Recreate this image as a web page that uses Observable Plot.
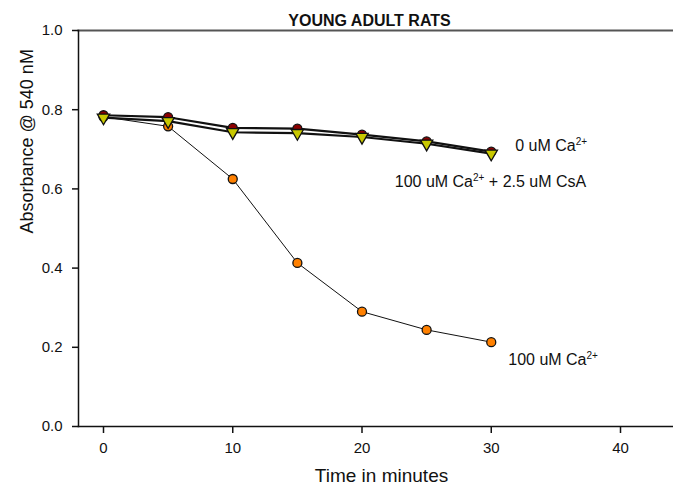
<!DOCTYPE html>
<html>
<head>
<meta charset="utf-8">
<script src="https://cdn.jsdelivr.net/npm/d3@7"></script>
<script src="https://cdn.jsdelivr.net/npm/@observablehq/plot@0.6"></script>
<style>
  html, body { margin: 0; padding: 0; background: #fff; }
  #chart svg { display: block; }
</style>
</head>
<body>
<div id="chart"></div>
<script>
// ---- data ----
const times = [0, 5, 10, 15, 20, 25, 30];
const ca0 = [0.786, 0.781, 0.754, 0.752, 0.737, 0.720, 0.694];      // 0 uM Ca2+
const caCsA = [0.780, 0.771, 0.743, 0.741, 0.731, 0.714, 0.689];    // 100 uM Ca2+ + 2.5 uM CsA
const ca100 = [0.782, 0.758, 0.625, 0.413, 0.290, 0.244, 0.213];    // 100 uM Ca2+
const seriesLabels = ["0 uM Ca2+", "100 uM Ca2+ + 2.5 uM CsA", "100 uM Ca2+"];
const xTicks = [0, 10, 20, 30, 40];
const yTicks = [0, 0.2, 0.4, 0.6, 0.8, 1.0];
const xDomain = [-1.934, 44.1];
const yDomain = [0, 1];
const title = "YOUNG ADULT RATS";
const xLabel = "Time in minutes";
const yLabel = "Absorbance @ 540 nM";

const rows = (vals) => times.map((t, i) => ({t, v: vals[i]}));
const last = (vals) => [{t: times[times.length - 1], v: vals[vals.length - 1]}];

const font = "'Liberation Sans', Arial, sans-serif";
const ink = "#111";

const plot = Plot.plot({
  width: 673,
  height: 486,
  marginLeft: 78,
  marginRight: 0,
  marginTop: 30,
  marginBottom: 60,
  style: {fontFamily: font, color: ink, background: "#fff", overflow: "visible"},
  x: {domain: xDomain},
  y: {domain: yDomain},
  marks: [
    Plot.frame({anchor: "top", stroke: "#555", strokeWidth: 2}),
    Plot.frame({anchor: "left", stroke: ink, strokeWidth: 1.5}),
    Plot.frame({anchor: "bottom", stroke: ink, strokeWidth: 1.5}),
    Plot.axisY({ticks: yTicks, tickFormat: d3.format(".1f"), tickSize: 6, tickPadding: 10,
      fontSize: 15, label: null, stroke: ink, strokeWidth: 1.5}),
    Plot.axisX({ticks: xTicks, tickSize: 7, tickPadding: 9, fontSize: 15, label: null,
      stroke: ink, strokeWidth: 1.5}),
    Plot.line(rows(ca100), {x: "t", y: "v", stroke: ink, strokeWidth: 1}),
    Plot.line(rows(caCsA), {x: "t", y: "v", stroke: ink, strokeWidth: 2.2}),
    Plot.line(rows(ca0), {x: "t", y: "v", stroke: ink, strokeWidth: 2.2}),
    Plot.dot(rows(ca100), {x: "t", y: "v", r: 4.5, fill: "#ff8000", stroke: ink, strokeWidth: 1.3}),
    Plot.dot(rows(ca0), {x: "t", y: "v", r: 4.5, fill: "#8b0000", stroke: ink, strokeWidth: 1.3}),
    Plot.dot(rows(caCsA), {x: "t", y: "v", symbol: "triangle", rotate: 180, r: 4.6,
      fill: "#c8c800", stroke: ink, strokeWidth: 1.3}),
    Plot.text(last(ca0), {x: "t", y: "v", text: () => seriesLabels[0], dx: 24, dy: -0.5,
      textAnchor: "start", lineAnchor: "bottom", fontSize: 16, fill: ink}),
    Plot.text(last(caCsA), {x: "t", y: "v", text: () => seriesLabels[1], dx: -96.5, dy: 33,
      textAnchor: "start", lineAnchor: "bottom", fontSize: 16, fill: ink}),
    Plot.text(last(ca100), {x: "t", y: "v", text: () => seriesLabels[2], dx: 17, dy: 22.4,
      textAnchor: "start", lineAnchor: "bottom", fontSize: 16, fill: ink}),
    Plot.text([title], {frameAnchor: "top", dx: -6.5, dy: -5, lineAnchor: "bottom",
      fontWeight: "bold", fontSize: 16, fill: ink}),
    Plot.text([xLabel], {frameAnchor: "bottom", dx: 5.5, dy: 55.5, lineAnchor: "bottom",
      fontSize: 19, fill: ink}),
    Plot.text([yLabel], {frameAnchor: "left", rotate: -90, dx: -46, dy: 5, lineAnchor: "bottom",
      fontSize: 18, fill: ink})
  ]
});

// superscript "2+" after "Ca"
plot.querySelectorAll("text").forEach((el) => {
  const s = el.textContent;
  const k = s.indexOf("Ca2+");
  if (k < 0 || el.children.length) return;
  el.textContent = "";
  el.appendChild(document.createTextNode(s.slice(0, k + 2)));
  const sup = document.createElementNS("http://www.w3.org/2000/svg", "tspan");
  sup.setAttribute("dy", "-6");
  sup.setAttribute("font-size", "10");
  sup.textContent = "2+";
  el.appendChild(sup);
  const rest = s.slice(k + 4);
  if (rest) {
    const r = document.createElementNS("http://www.w3.org/2000/svg", "tspan");
    r.setAttribute("dy", "6");
    r.textContent = rest;
    el.appendChild(r);
  }
});

document.getElementById("chart").appendChild(plot);
</script>
</body>
</html>
